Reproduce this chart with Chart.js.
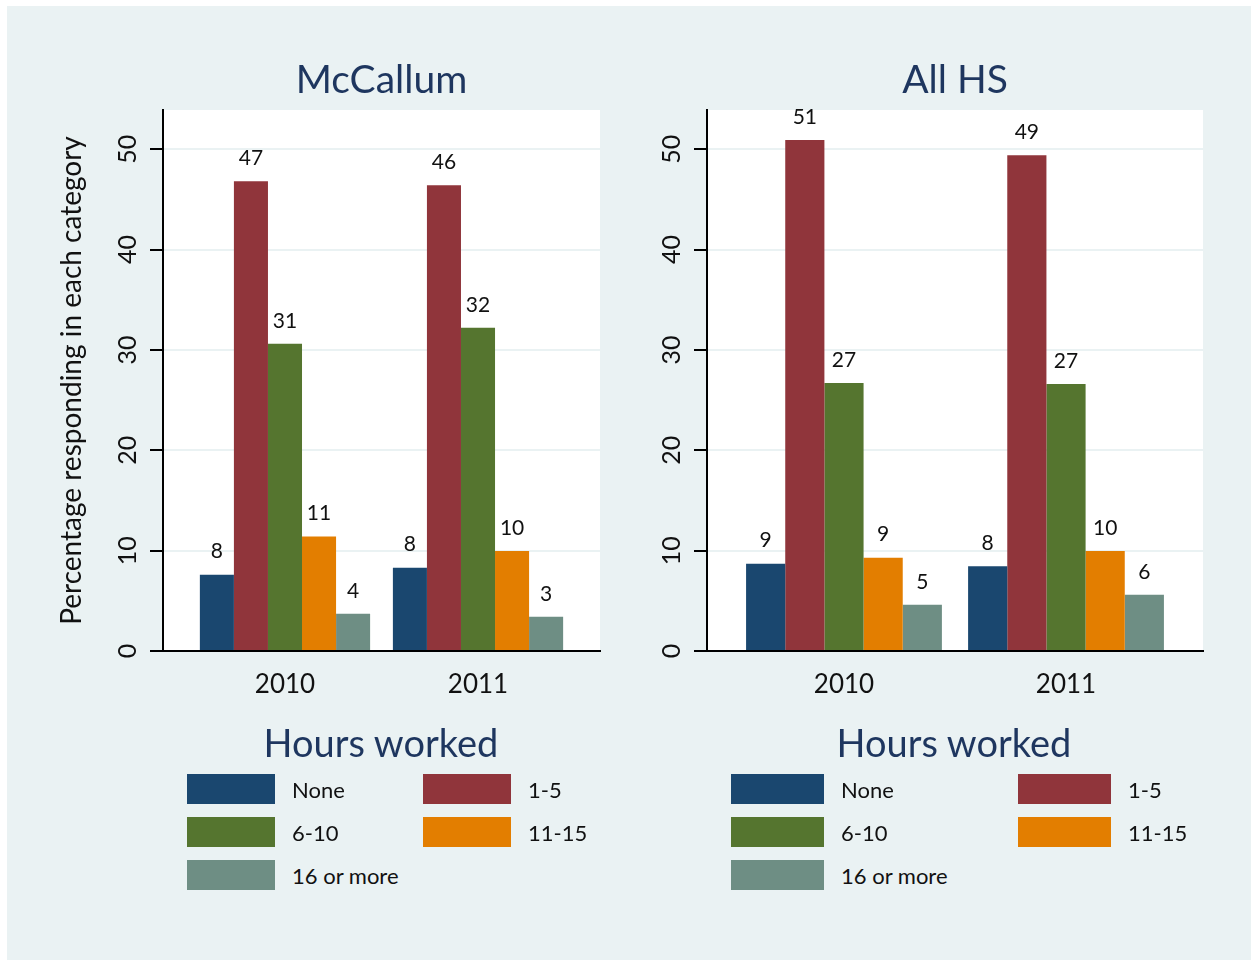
<!DOCTYPE html>
<html>
<head>
<meta charset="utf-8">
<script src="https://cdn.jsdelivr.net/npm/chart.js@4.4.1/dist/chart.umd.min.js"></script>
<style>
  html, body { margin: 0; padding: 0; background: #fff; }
  #page { position: relative; width: 1251px; height: 960px; overflow: hidden; }
  #bg { position: absolute; left: 7px; top: 6px; right: 0; bottom: 0; background: #eaf2f3; }
  canvas { position: absolute; top: 0; }
  #c1 { left: 0; }
  #c2 { left: 625px; }
  .lg-title { position: absolute; font-family: Lato, "Open Sans", sans-serif; font-size: 38px; color: #1e365f;
              transform: translateX(-50%); white-space: nowrap; line-height: 1; }
  .lg-box { position: absolute; height: 30px; }
  .lg-text { position: absolute; font-family: Lato, "Open Sans", sans-serif; font-size: 22px; color: #111;
             line-height: 30px; white-space: nowrap; }
</style>
</head>
<body>
<div id="page">
  <div id="bg"></div>
  <canvas id="c1" width="625" height="720"></canvas>
  <canvas id="c2" width="626" height="720"></canvas>
</div>
<script>
// ===== data =====
const years = [2010, 2011];
const seriesNames = ["None", "1-5", "6-10", "11-15", "16 or more"];
const seriesColors = ["#1a476f", "#90353b", "#55752f", "#e37e00", "#6e8e84"];
const yTicks = [0, 10, 20, 30, 40, 50];

// one array per hours group, values for [2010, 2011]
const mcNone = [7.6, 8.3];
const mc1to5 = [46.8, 46.4];
const mc6to10 = [30.6, 32.2];
const mc11to15 = [11.4, 9.96];
const mc16plus = [3.7, 3.4];

const hsNone = [8.7, 8.45];
const hs1to5 = [50.9, 49.4];
const hs6to10 = [26.7, 26.6];
const hs11to15 = [9.3, 9.96];
const hs16plus = [4.6, 5.6];

const mcValues = [mcNone, mc1to5, mc6to10, mc11to15, mc16plus];
const hsValues = [hsNone, hs1to5, hs6to10, hs11to15, hs16plus];

const FONT = "Lato, 'Open Sans', sans-serif";
const NAVY = "#1e365f";
const GRID = "#eaf2f3";

// white plot region, title above it, numbers over the bars
const panelPlugin = {
  id: "panel",
  beforeDraw(chart) {
    const a = chart.chartArea, ctx = chart.ctx;
    ctx.save();
    ctx.fillStyle = "#fff";
    ctx.fillRect(a.left, a.top, a.right - a.left, a.bottom - a.top);
    ctx.restore();
  },
  afterDatasetsDraw(chart) {
    const ctx = chart.ctx;
    ctx.save();
    ctx.font = "21px " + FONT;
    ctx.fillStyle = "#111";
    ctx.textAlign = "center";
    ctx.textBaseline = "middle";
    chart.data.datasets.forEach((ds, i) => {
      chart.getDatasetMeta(i).data.forEach((bar, j) => {
        ctx.fillText(Math.round(ds.data[j].y), bar.x, bar.y - 23);
      });
    });
    ctx.restore();
  },
  afterDraw(chart) {
    const a = chart.chartArea, ctx = chart.ctx;
    ctx.save();
    ctx.font = "39px " + FONT;
    ctx.fillStyle = NAVY;
    ctx.textAlign = "center";
    ctx.textBaseline = "middle";
    ctx.fillText(chart.options.plugins.panel.title, (a.left + a.right) / 2, 80);
    ctx.restore();
  }
};

function makeChart(id, title, values, cfg) {
  const datasets = values.map((vals, i) => ({
    label: seriesNames[i],
    data: years.map((yr, j) => ({ x: yr, y: vals[j] })),
    backgroundColor: seriesColors[i],
    borderWidth: 0,
    categoryPercentage: 0.882,
    barPercentage: 1
  }));
  return new Chart(document.getElementById(id), {
    type: "bar",
    data: { datasets },
    plugins: [panelPlugin],
    options: {
      responsive: false,
      animation: false,
      layout: { padding: { top: 110, right: cfg.padRight, bottom: 0, left: 0 } },
      plugins: { legend: { display: false }, tooltip: { enabled: false }, panel: { title } },
      scales: {
        x: {
          type: "linear",
          offset: false,
          min: cfg.xMin, max: cfg.xMax,
          afterBuildTicks: (s) => { s.ticks = years.map((v) => ({ value: v })); },
          afterFit: (s) => { s.height = 69; },
          grid: { display: false, drawTicks: false, offset: false },
          border: { display: true, color: "#000", width: 2 },
          ticks: { callback: (v) => String(v), color: "#111", font: { family: FONT, size: 26 }, padding: 18, maxRotation: 0 }
        },
        y: {
          min: 0, max: 53.9,
          afterBuildTicks: (s) => { s.ticks = yTicks.map((v) => ({ value: v })); },
          afterFit: (s) => { s.width = cfg.yWidth; },
          grid: { color: GRID, lineWidth: 2, tickColor: "#000", tickLength: 13, tickWidth: 2 },
          border: { display: true, color: "#000", width: 2 },
          ticks: { color: "#111", font: { family: FONT, size: 25 }, minRotation: 90, maxRotation: 90,
                   crossAlign: "center", padding: 8 },
          title: { display: cfg.yTitle, text: "Percentage responding in each category", color: "#111",
                   font: { family: FONT, size: 28 }, padding: { top: 55, bottom: 0 } }
        }
      }
    }
  });
}

makeChart("c1", "McCallum", mcValues, { xMin: 2009.368, xMax: 2011.632, padRight: 25, yWidth: 163, yTitle: true });
makeChart("c2", "All HS", hsValues, { xMin: 2009.383, xMax: 2011.617, padRight: 48, yWidth: 82, yTitle: false });

// ===== legends (HTML) =====
function makeLegend(centerX, colX, boxW) {
  const page = document.getElementById("page");
  const t = document.createElement("div");
  t.className = "lg-title";
  t.textContent = "Hours worked";
  t.style.left = centerX + "px";
  t.style.top = "723px";
  page.appendChild(t);
  const rows = [774, 817, 860];
  seriesNames.forEach((name, i) => {
    const x = colX[i % 2], y = rows[Math.floor(i / 2)];
    const b = document.createElement("div");
    b.className = "lg-box";
    b.style.left = x + "px"; b.style.top = y + "px"; b.style.width = boxW + "px";
    b.style.background = seriesColors[i];
    page.appendChild(b);
    const s = document.createElement("div");
    s.className = "lg-text";
    s.textContent = name;
    s.style.left = (x + boxW + 17) + "px"; s.style.top = (y + 1) + "px";
    page.appendChild(s);
  });
}
makeLegend(381, [187, 423], 88);
makeLegend(954, [731, 1018], 93);
</script>
</body>
</html>
